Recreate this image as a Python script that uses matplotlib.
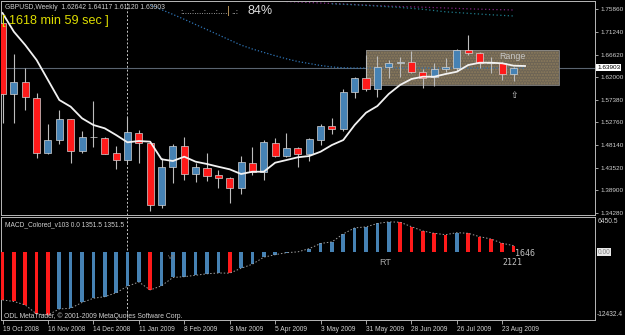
import numpy as np
import matplotlib
matplotlib.use("Agg")
import matplotlib.pyplot as plt
from matplotlib.patches import Rectangle
import matplotlib.transforms as mtransforms

plt.rcParams['font.family'] = ['Liberation Sans', 'DejaVu Sans']

#========================== data =========================
# weekly GBPUSD bars, 19 Oct 2008 .. 30 Aug 2009
opens = [1.7312, 1.5848, 1.6106, 1.5779, 1.4642, 1.4914, 1.5337, 1.4689, 1.4976, 1.4961,
         1.4642, 1.4499, 1.5051, 1.4847, 1.3586, 1.4356, 1.4792, 1.4213, 1.4336, 1.4199,
         1.4144, 1.3927, 1.4450, 1.4266, 1.4859, 1.4593, 1.4751, 1.4628, 1.4914, 1.5200,
         1.5133, 1.5889, 1.6176, 1.5951, 1.6413, 1.6482, 1.6509, 1.6298, 1.6208, 1.6366,
         1.6392, 1.6754, 1.6687, 1.6482, 1.6482, 1.62642]
highs = [1.7367, 1.6672, 1.6392, 1.5869, 1.5235, 1.5528, 1.5340, 1.5098, 1.5712, 1.4970,
         1.4798, 1.5391, 1.5119, 1.4880, 1.4540, 1.4832, 1.4982, 1.4450, 1.4642, 1.4301,
         1.4165, 1.4587, 1.4777, 1.4914, 1.4961, 1.5051, 1.4777, 1.4949, 1.5235, 1.5358,
         1.5951, 1.6196, 1.6652, 1.6631, 1.6550, 1.6605, 1.6740, 1.6366, 1.6482, 1.6584,
         1.6768, 1.7061, 1.6719, 1.6617, 1.6515, 1.64117]
lows = [1.5262, 1.5256, 1.5528, 1.4540, 1.4635, 1.4832, 1.4438, 1.4655, 1.4777, 1.4625,
        1.4315, 1.4438, 1.4438, 1.3469, 1.3518, 1.4029, 1.4097, 1.4062, 1.4082, 1.3927,
        1.3620, 1.3810, 1.4199, 1.4097, 1.4561, 1.4573, 1.4368, 1.4491, 1.4812, 1.5037,
        1.5098, 1.5767, 1.5922, 1.5787, 1.6176, 1.6208, 1.6290, 1.5971, 1.6024, 1.6310,
        1.6331, 1.6652, 1.6380, 1.6278, 1.6141, 1.61120]
closes = [1.5848, 1.6106, 1.5787, 1.4642, 1.4908, 1.5337, 1.4689, 1.4976, 1.4966, 1.4634,
          1.4499, 1.5072, 1.4847, 1.3586, 1.4356, 1.4792, 1.4213, 1.4356, 1.4185, 1.4144,
          1.3927, 1.4458, 1.4266, 1.4867, 1.4593, 1.4745, 1.4628, 1.4929, 1.5200, 1.5133,
          1.5902, 1.6176, 1.5951, 1.6400, 1.6482, 1.6509, 1.6298, 1.6188, 1.6360, 1.6400,
          1.6754, 1.6687, 1.6482, 1.6505, 1.6263, 1.63903]

# white moving average (drawn one bar ahead)
ma_fast = [1.7510, 1.7128, 1.6856, 1.6550, 1.6141, 1.5732, 1.5595, 1.5358, 1.5221, 1.5153,
           1.5016, 1.4867, 1.4894, 1.4880, 1.4520, 1.4485, 1.4573, 1.4471, 1.4424, 1.4368,
           1.4315, 1.4219, 1.4266, 1.4266, 1.4450, 1.4505, 1.4561, 1.4587, 1.4675, 1.4812,
           1.4914, 1.5221, 1.5472, 1.5609, 1.5855, 1.6039, 1.6161, 1.6208, 1.6208, 1.6263,
           1.6310, 1.6447, 1.6494, 1.6494, 1.6482, 1.6433, 1.6427]
# slow blue dotted average, from bar 13 onward
ma_slow = [1.7674, 1.7578, 1.7482, 1.7381, 1.7275, 1.7171, 1.7065, 1.6958, 1.6854, 1.6774,
           1.6705, 1.6637, 1.6574, 1.6518, 1.6478, 1.6437, 1.6407, 1.6390, 1.6385, 1.6385,
           1.6385, 1.6385, 1.6385, 1.6385, 1.6385, 1.6385, 1.6385, 1.6385, 1.6385, 1.6385,
           1.6385, 1.6385, 1.6385, 1.6385]
ma_slow_start = 13
# the two faint averages near the top (every second bar from 25)
ma_purple = [1.7745, 1.7725, 1.7705, 1.7684, 1.7660, 1.7643, 1.7629, 1.7613, 1.7596, 1.7582, 1.7572]
ma_teal = [1.7698, 1.7678, 1.7653, 1.7623, 1.7586, 1.7535, 1.7504, 1.7474, 1.7449]
purple_bars = [25, 27, 29, 31, 33, 35, 37, 39, 41, 43, 45]
teal_bars = [29, 31, 33, 35, 37, 39, 41, 43, 45]

macd = [-8762, -9037, -9678, -11328, -11511, -10411, -10283, -9220, -8450, -8157,
        -7442, -6251, -5462, -6929, -6159, -4637, -4491, -4234, -3959, -3813,
        -3849, -2951, -2200, -917, -458, -90, 60, 650, 1595, 1888,
        3354, 4454, 4637, 5261, 5554, 5500, 4674, 3886, 3464, 3208,
        3574, 3464, 2841, 2420, 1631, 1191]

price_ticks = [1.75860, 1.71240, 1.66620, 1.62000, 1.57380, 1.52760, 1.48140, 1.43520, 1.38900, 1.34280]
date_labels = ["19 Oct 2008", "16 Nov 2008", "14 Dec 2008", "11 Jan 2009", "8 Feb 2009", "8 Mar 2009",
               "5 Apr 2009", "3 May 2009", "31 May 2009", "28 Jun 2009", "26 Jul 2009", "23 Aug 2009"]
last_price = 1.63903
range_box = (32.0, 49.0, 1.6039, 1.6754)  # bar from, bar to, price low, price high
macd_top, macd_bottom = 6450.5, -12432.4

#========================== styling =========================
BG = "#000000"
FG = "#d0d0d0"
BULL = "#4682b4"
BEAR = "#ff1a1a"
W, H = 625, 335

fig = plt.figure(figsize=(6.25, 3.35), dpi=100, facecolor=BG)

def fx(px):
    return px / W

def fy(py):
    return 1 - py / H

ax = fig.add_axes([fx(1.5), fy(215), fx(595) - fx(1.5), fy(1) - fy(215)], facecolor=BG)
ax2 = fig.add_axes([fx(1.5), fy(320), fx(595) - fx(1.5), fy(217) - fy(320)], facecolor=BG)

for a in (ax, ax2):
    for s in a.spines.values():
        s.set_color("#b8b8b8")
        s.set_linewidth(0.7)
    a.set_xlim(-0.09, 52.16)

#========================== main panel =========================
o = np.array(opens); h = np.array(highs); l = np.array(lows); c = np.array(closes)
idx = np.arange(len(o))
up = c >= o
cols = np.where(up, BULL, BEAR)

# range box behind everything
x0, x1, p0, p1 = range_box
ax.add_patch(Rectangle((x0, p0), x1 - x0, p1 - p0, facecolor="#6c6354", edgecolor="none", zorder=1))
ax.add_patch(Rectangle((x0, p0), x1 - x0, p1 - p0, facecolor="none", edgecolor="#8d7c5c",
                       hatch="......", linewidth=0, zorder=1.1))
ax.add_patch(Rectangle((x0, p0), x1 - x0, p1 - p0, facecolor="none", edgecolor="#8a8a8a",
                       linewidth=0.6, zorder=1.2))

ax.axhline(last_price, color="#5a6470", lw=0.8, zorder=0.5)
ax.axvline(11, color="#c8c8c8", lw=0.7, ls=(0, (2, 2)), zorder=0.6)

ax.plot(purple_bars, ma_purple, color="#7d2580", lw=0.9, ls=(0, (1, 2)), zorder=2)
ax.plot(teal_bars, ma_teal, color="#1f7c8c", lw=0.9, ls=(0, (1, 2)), zorder=2)
ax.plot(np.arange(ma_slow_start, ma_slow_start + len(ma_slow)), ma_slow,
        color="#2f74b5", lw=0.9, ls=(0, (1, 1.6)), zorder=2)

ax.vlines(idx, l, h, color="#bdbdbd", lw=0.8, zorder=3)
body_lo = np.minimum(o, c)
body_h = np.maximum(np.abs(c - o), 0.0008)
ax.bar(idx, body_h, bottom=body_lo, width=0.62, color=cols, edgecolor="#d4d4d4",
       linewidth=0.5, zorder=4)

ax.plot(np.arange(len(ma_fast)), ma_fast, color="#f2f2f2", lw=1.3, zorder=5)

ax.text(44.85, 1.6611, "Range", color="#c8c8c8", fontsize=6.4, va="center", ha="center", zorder=6)
ax.text(45.03, 1.5834, "\u21e7", color="#d8d8d8", fontsize=6.5, va="center", ha="center",
        family=["DejaVu Sans"], zorder=6)

ax.set_ylim(1.33812, 1.77557)
ax.yaxis.tick_right()
ax.set_yticks(price_ticks)
ax.set_yticklabels(["%.5f" % p for p in price_ticks])
ax.tick_params(axis="y", colors="#c0c0c0", labelcolor=FG, labelsize=4.6, length=2.5, width=0.6, pad=1.5)
ax.set_xticks([])

# current price marker
trans = mtransforms.blended_transform_factory(ax.transAxes, ax.transData)
ax.text(1.004, last_price, "1.63903", transform=trans, color="#000000", fontsize=4.6, va="center",
        ha="left", bbox=dict(boxstyle="square,pad=0.15", fc="#ffffff", ec="none"), clip_on=False)

#========================== MACD panel =========================
m = np.array(macd)
falling = np.diff(m, prepend=m[0] + 1) < 0
mcols = np.where(falling, BEAR, BULL)
ax2.bar(idx, m, width=0.32, color=mcols, zorder=3)
ax2.plot(idx, m, color="#a0a0a0", lw=0.7, ls=(0, (1.5, 2)), zorder=4)
ax2.axvline(11, color="#c8c8c8", lw=0.7, ls=(0, (2, 2)), zorder=0.6)
ax2.set_ylim(macd_bottom, macd_top)
ax2.set_yticks([])

tick_pos = np.arange(0, 4 * len(date_labels), 4)
ax2.set_xticks(tick_pos)
ax2.set_xticklabels(date_labels)
ax2.tick_params(axis="x", colors="#c0c0c0", labelcolor=FG, labelsize=4.8, length=3, width=0.6, pad=1)
for t in ax2.get_xticklabels():
    t.set_ha("left")

ax2.text(33.7, -1800, "RT", color="#a8a8a8", fontsize=6.5, ha="center", va="center", zorder=5)
ax2.text(14.9, -900, "VT", color="#808080", fontsize=4.5, ha="center", va="center", zorder=5)
ax2.text(45.1, -150, "1646", color="#c0c0c0", fontsize=6, ha="left", va="center", family=["DejaVu Sans Mono", "DejaVu Sans"], zorder=5)
ax2.text(44.0, -1900, "2121", color="#c0c0c0", fontsize=6, ha="left", va="center", family=["DejaVu Sans Mono", "DejaVu Sans"], zorder=5)

#========================== texts =========================
fig.text(fx(5), fy(7.5), "GBPUSD,Weekly  1.62642 1.64117 1.61120 1.63903", color=FG, fontsize=4.9, va="center")
fig.text(fx(2), fy(21), "[ 1618 min 59 sec ]", color="#dcdc00", fontsize=9.1, va="center")
fig.text(fx(180), fy(12), ":....:....:....:....", color="#e0e0e0", fontsize=6, va="center")
fig.text(fx(227), fy(11), "|", color="#c8a060", fontsize=8, va="center")
fig.text(fx(231), fy(12), "..:", color="#e0e0e0", fontsize=6, va="center")
fig.text(fx(248), fy(10.5), "84%", color="#e0e0e0", fontsize=9, va="center")

fig.text(fx(5), fy(224.5), "MACD_Colored_v103 0.0 1351.5 1351.5", color=FG, fontsize=4.8, va="center")
fig.text(fx(4), fy(316.5), "ODL MetaTrader, \u00a9 2001-2009 MetaQuotes Software Corp.", color=FG, fontsize=4.9, va="center")

fig.text(fx(598), fy(221.5), "6450.5", color=FG, fontsize=4.8, va="center")
fig.text(fx(598), fy(252.3), "0.00", color="#808080", fontsize=4.8, va="center",
         bbox=dict(boxstyle="square,pad=0.1", fc="#e8e8e8", ec="none"))
fig.text(fx(596.5), fy(315), "-12432.4", color=FG, fontsize=4.8, va="center")

fig.savefig("out.png", dpi=100, facecolor=BG)
